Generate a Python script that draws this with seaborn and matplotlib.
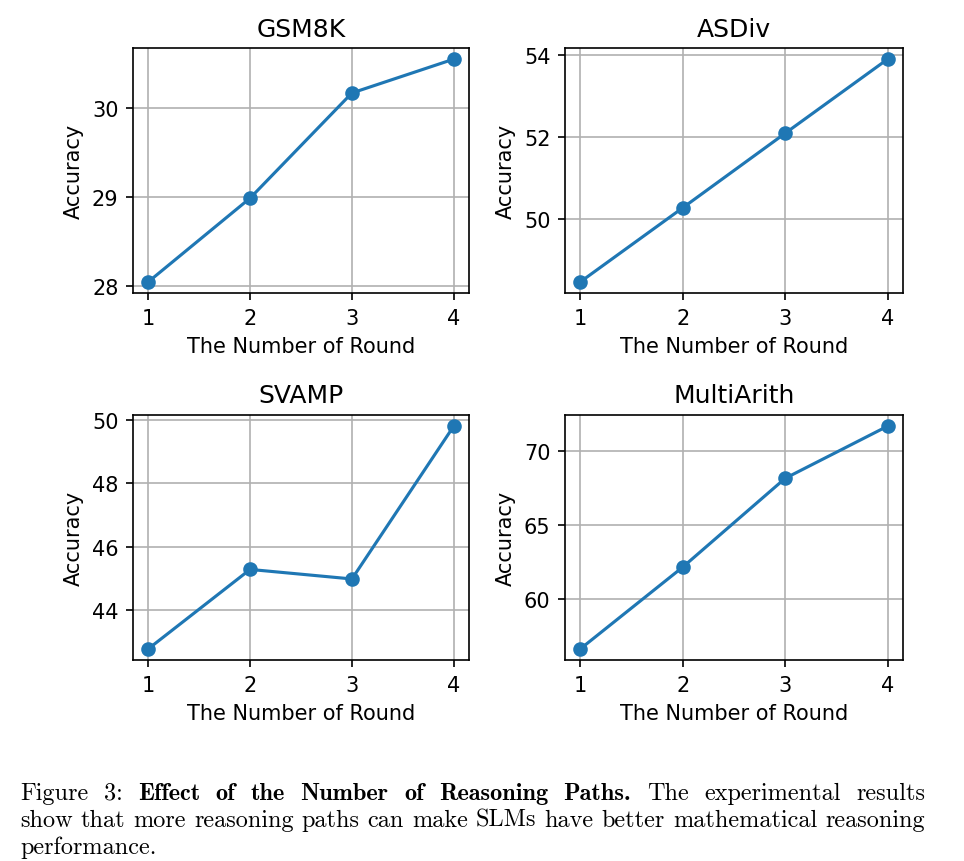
import matplotlib

matplotlib.use("Agg")
import matplotlib.pyplot as plt
import pandas as pd
import seaborn as sns
from matplotlib.ticker import MultipleLocator

# values
rounds = [1, 2, 3, 4]
gsm8k = [28.05, 28.99, 30.17, 30.55]
asdiv = [48.47, 50.28, 52.10, 53.91]
svamp = [42.79, 45.29, 44.99, 49.80]
multiarith = [56.64, 62.16, 68.15, 71.67]

titles = ["GSM8K", "ASDiv", "SVAMP", "MultiArith"]
series = [gsm8k, asdiv, svamp, multiarith]
y_steps = [1, 2, 2, 5]

# the reference is a matplotlib figure rendered ~1.5x larger than 100 dpi
s = 1.5
plt.rcParams.update({
    "font.family": ["DejaVu Sans"],
    "font.size": 10 * s,
    "axes.titlesize": 12 * s,
    "axes.labelsize": 10 * s,
    "xtick.labelsize": 10 * s,
    "ytick.labelsize": 10 * s,
    "axes.linewidth": 0.8 * s,
    "xtick.major.width": 0.8 * s,
    "ytick.major.width": 0.8 * s,
    "xtick.major.size": 3.5 * s,
    "ytick.major.size": 3.5 * s,
    "xtick.major.pad": 3.5 * s,
    "ytick.major.pad": 3.5 * s,
    "axes.titlepad": 6 * s,
    "axes.labelpad": 4 * s,
    "grid.linewidth": 0.8 * s,
    "grid.color": "#b0b0b0",
})

fig = plt.figure(figsize=(9.64, 8.62), dpi=100)
W, H = 964, 862

# axes boxes in pixels: (left, top, right, bottom)
boxes = [
    (133, 49, 469, 294),
    (565, 49, 903, 294),
    (133, 416, 469, 661),
    (565, 416, 903, 661),
]

blue = "#1f77b4"
for title, vals, step, (l, t, r, b) in zip(titles, series, y_steps, boxes):
    ax = fig.add_axes([l / W, 1 - b / H, (r - l) / W, (b - t) / H])
    df = pd.DataFrame({"round": rounds, "acc": vals})
    sns.lineplot(data=df, x="round", y="acc", marker="o", color=blue,
                 linewidth=1.5 * s, markersize=6 * s, markeredgewidth=1.0 * s,
                 markeredgecolor=blue, ax=ax)
    ax.grid(True)
    ax.set_axisbelow(True)
    ax.set_xticks(rounds)
    ax.yaxis.set_major_locator(MultipleLocator(step))
    ax.set_title(title)
    ax.set_xlabel("The Number of Round")
    ax.set_ylabel("Accuracy")


# caption, justified like the LaTeX paragraph
cap_lines = [
    [("Figure", "cmr10"), ("3:", "cmr10"), ("Effect", "cmb10"), ("of", "cmb10"),
     ("the", "cmb10"), ("Number", "cmb10"), ("of", "cmb10"), ("Reasoning", "cmb10"),
     ("Paths.", "cmb10"), ("The", "cmr10"), ("experimental", "cmr10"),
     ("results", "cmr10")],
    [(w, "cmr10") for w in
     "show that more reasoning paths can make SLMs have better mathematical reasoning".split()],
    [("performance.", "cmr10")],
]
x0, x1 = 20, 925
baselines = [800, 827, 854]
cap_size = 17.5

fig.canvas.draw()
renderer = fig.canvas.get_renderer()

for i, (words, yb) in enumerate(zip(cap_lines, baselines)):
    texts = []
    for w, fam in words:
        txt = fig.text(0, 1 - yb / H, w, family=fam, fontsize=cap_size,
                       va="baseline", ha="left")
        texts.append(txt)
    widths = [tx.get_window_extent(renderer).width for tx in texts]
    if i < len(cap_lines) - 1 and len(texts) > 1:
        gap = (x1 - x0 - sum(widths)) / (len(texts) - 1)
    else:
        gap = 0.333 * cap_size * fig.dpi / 72
    x = x0
    for tx, wd in zip(texts, widths):
        tx.set_x(x / W)
        x += wd + gap

fig.savefig("out.png", dpi=100)
